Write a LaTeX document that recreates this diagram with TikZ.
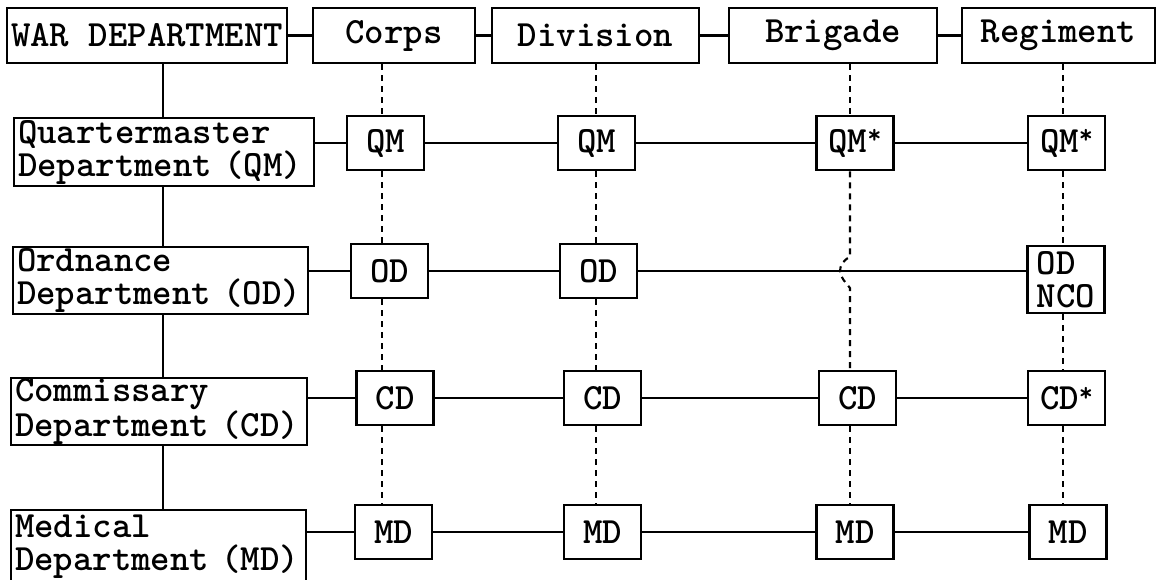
\documentclass[tikz,border=0pt]{standalone}
\usepackage{fontspec}
\usetikzlibrary{calc}
\newcommand{\starmark}{\raisebox{0.22em}{\fontsize{27}{27}\selectfont *}}
\begin{document}
\begin{tikzpicture}[x=1pt,y=-1pt,
  font=\fontsize{37}{33}\selectfont\ttfamily\bfseries,
  topbox/.style={draw, line width=2.8pt, minimum height=55pt, inner sep=0pt},
  deptbox/.style={draw, line width=2.8pt, minimum height=67pt, inner xsep=4pt, inner ysep=0pt, text width=#1, align=left},
  unitbox/.style={draw, line width=2.8pt, minimum width=77pt, minimum height=54pt, inner sep=0pt},
  link/.style={line width=2.5pt},
  chain/.style={line width=2.1pt, dash pattern=on 6pt off 5pt}]
\useasboundingbox (0,0) rectangle (1158,579);
\clip (0,0) rectangle (1158,579);

% top row
\node[topbox, minimum width=280pt] (war) at (147,35.5) {WAR DEPARTMENT};
\node[topbox, minimum width=162pt] (corps) at (394,35.5) {Corps};
\node[topbox, minimum width=207pt] (div) at (595.5,35.5) {Division};
\node[topbox, minimum width=208pt] (brig) at (833,35.5) {Brigade};
\node[topbox, minimum width=193pt] (reg) at (1058.5,35.5) {Regiment};

% departments
\node[deptbox=292pt, minimum height=68pt] (qmd) at (164,152) {Quartermaster\\Department (QM)};
\node[deptbox=287pt] (odd) at (160.5,280.5) {Ordnance\\Department (OD)};
\node[deptbox=288pt] (cdd) at (159,411.5) {Commissary\\Department (CD)};
\node[deptbox=287pt, minimum height=74pt] (mdd) at (158.5,547) {Medical\\Department (MD)};

% unit boxes
\node[unitbox] (qm1) at (385.5,143) {QM};
\node[unitbox] (qm2) at (596.5,143) {QM};
\node[unitbox] (qm3) at (855,143) {QM\starmark};
\node[unitbox] (qm4) at (1066.5,143) {QM\starmark};
\node[unitbox] (od1) at (389.5,271) {OD};
\node[unitbox] (od2) at (598.5,271) {OD};
\node[unitbox, minimum height=67pt, align=left] (od4) at (1066,279.5) {OD\\NCO};
\node[unitbox] (cd1) at (395,398) {CD};
\node[unitbox] (cd2) at (602.5,398) {CD};
\node[unitbox] (cd3) at (857.5,398) {CD};
\node[unitbox] (cd4) at (1066.5,398) {CD\starmark};
\node[unitbox] (md1) at (393.5,532) {MD};
\node[unitbox] (md2) at (602.5,532) {MD};
\node[unitbox] (md3) at (855,532) {MD};
\node[unitbox] (md4) at (1068,532) {MD};

% top connectors
\draw[link] (war.east) -- (corps.west);
\draw[link] (corps.east) -- (div.west);
\draw[link] (div.east) -- (brig.west);
\draw[link] (brig.east) -- (reg.west);

% spine
\coordinate (spine) at (163,0);
\draw[link] (spine |- war.south) -- (spine |- qmd.north);
\draw[link] (spine |- qmd.south) -- (spine |- odd.north);
\draw[link] (spine |- odd.south) -- (spine |- cdd.north);
\draw[link] (spine |- cdd.south) -- (spine |- mdd.north);

% rows
\draw[link] (qm1.west -| qmd.east) -- (qm1.west);
\draw[link] (qm1.east) -- (qm2.west);
\draw[link] (qm2.east) -- (qm3.west);
\draw[link] (qm3.east) -- (qm4.west);
\draw[link] (od1.west -| odd.east) -- (od1.west);
\draw[link] (od1.east) -- (od2.west);
\draw[link] (od2.east) -- (od2.east -| od4.west);
\draw[link] (cd1.west -| cdd.east) -- (cd1.west);
\draw[link] (cd1.east) -- (cd2.west);
\draw[link] (cd2.east) -- (cd3.west);
\draw[link] (cd3.east) -- (cd4.west);
\draw[link] (md1.west -| mdd.east) -- (md1.west);
\draw[link] (md1.east) -- (md2.west);
\draw[link] (md2.east) -- (md3.west);
\draw[link] (md3.east) -- (md4.west);

% dashed columns
\coordinate (c1) at (382,0);
\coordinate (c2) at (596,0);
\coordinate (c3) at (850,0);
\coordinate (c4) at (1063,0);
\draw[chain] (c1 |- corps.south) -- (c1 |- qm1.north);
\draw[chain] (c1 |- qm1.south) -- (c1 |- od1.north);
\draw[chain] (c1 |- od1.south) -- (c1 |- cd1.north);
\draw[chain] (c1 |- cd1.south) -- (c1 |- md1.north);
\draw[chain] (c2 |- div.south) -- (c2 |- qm2.north);
\draw[chain] (c2 |- qm2.south) -- (c2 |- od2.north);
\draw[chain] (c2 |- od2.south) -- (c2 |- cd2.north);
\draw[chain] (c2 |- cd2.south) -- (c2 |- md2.north);
\coordinate (hop) at (c3 |- od2);
\draw[chain] (c3 |- brig.south) -- (c3 |- qm3.north);
\draw[chain] (c3 |- qm3.south) -- ($(hop)+(0,-14)$)
  .. controls ($(hop)+(-7,-11)$) and ($(hop)+(-10,-5)$) .. ($(hop)+(-10,0)$)
  .. controls ($(hop)+(-10,6)$) and ($(hop)+(-4,12)$) .. ($(hop)+(0,17)$)
  -- (c3 |- cd3.north);
\draw[chain] (c3 |- cd3.south) -- (c3 |- md3.north);
\draw[chain] (c4 |- reg.south) -- (c4 |- qm4.north);
\draw[chain] (c4 |- qm4.south) -- (c4 |- od4.north);
\draw[chain] (c4 |- od4.south) -- (c4 |- cd4.north);
\draw[chain] (c4 |- cd4.south) -- (c4 |- md4.north);
\end{tikzpicture}
\end{document}
